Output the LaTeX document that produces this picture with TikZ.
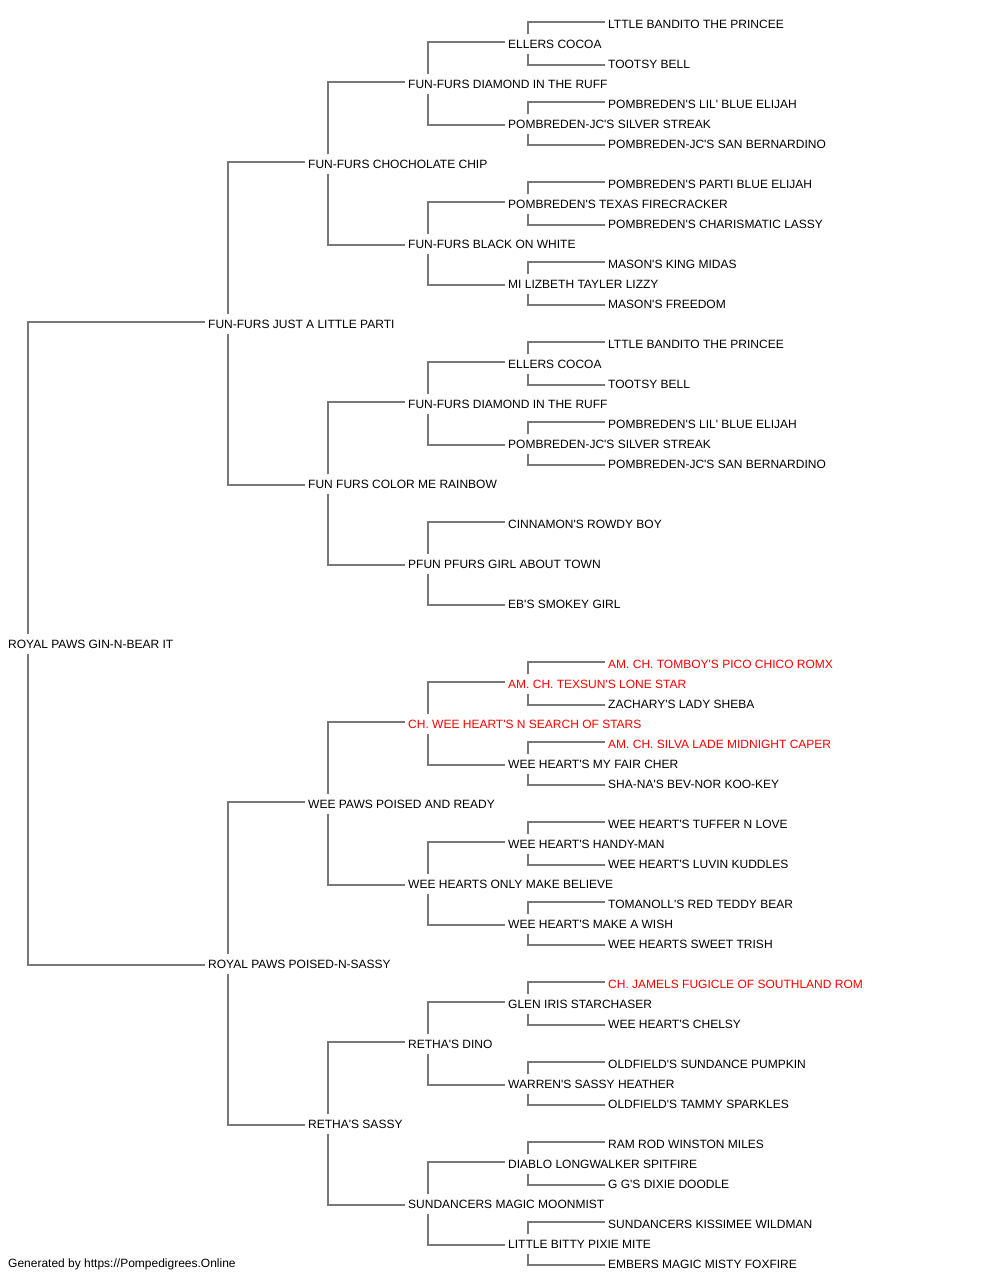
\documentclass[tikz,border=0pt]{standalone}
\usepackage{fontspec}
\setmainfont{Liberation Sans}[Ligatures=TeXOff]
\definecolor{lineg}{HTML}{787878}
\definecolor{champ}{HTML}{FF0000}
\tikzset{
  dog/.style={anchor=west, inner xsep=3pt, inner ysep=5.7pt, text height=8.6pt, text depth=0pt,
    font=\fontsize{12pt}{14pt}\selectfont, text=black},
  champion/.style={dog, text=champ},
  conn/.style={draw=lineg, line width=1.6pt},
  footer/.style={anchor=west, inner sep=0pt, font=\fontsize{12pt}{14pt}\selectfont}
}
\newcommand\pedlink[3]{%
  \draw[conn] ([xshift=23pt]#1.north west) |- ([yshift=2pt]#2.west);
  \draw[conn] ([xshift=23pt]#1.south west) |- ([yshift=-1pt]#3.west);}
\begin{document}
\begin{tikzpicture}[x=1pt,y=-1pt]
\fill[white] (0,0) rectangle (1000,1280);
\useasboundingbox (0,0) rectangle (1000,1280);
% generation 0
\node[dog] (n0-0) at (5,644) {ROYAL PAWS GIN-N-BEAR IT};
% generation 1
\node[dog] (n1-0) at (205,324) {FUN-FURS JUST A LITTLE PARTI};
\node[dog] (n1-1) at (205,964) {ROYAL PAWS POISED-N-SASSY};
% generation 2
\node[dog] (n2-0) at (305,164) {FUN-FURS CHOCHOLATE CHIP};
\node[dog] (n2-1) at (305,484) {FUN FURS COLOR ME RAINBOW};
\node[dog] (n2-2) at (305,804) {WEE PAWS POISED AND READY};
\node[dog] (n2-3) at (305,1124) {RETHA'S SASSY};
% generation 3
\node[dog] (n3-0) at (405,84) {FUN-FURS DIAMOND IN THE RUFF};
\node[dog] (n3-1) at (405,244) {FUN-FURS BLACK ON WHITE};
\node[dog] (n3-2) at (405,404) {FUN-FURS DIAMOND IN THE RUFF};
\node[dog] (n3-3) at (405,564) {PFUN PFURS GIRL ABOUT TOWN};
\node[champion] (n3-4) at (405,724) {CH. WEE HEART'S N SEARCH OF STARS};
\node[dog] (n3-5) at (405,884) {WEE HEARTS ONLY MAKE BELIEVE};
\node[dog] (n3-6) at (405,1044) {RETHA'S DINO};
\node[dog] (n3-7) at (405,1204) {SUNDANCERS MAGIC MOONMIST};
% generation 4
\node[dog] (n4-0) at (505,44) {ELLERS COCOA};
\node[dog] (n4-1) at (505,124) {POMBREDEN-JC'S SILVER STREAK};
\node[dog] (n4-2) at (505,204) {POMBREDEN'S TEXAS FIRECRACKER};
\node[dog] (n4-3) at (505,284) {MI LIZBETH TAYLER LIZZY};
\node[dog] (n4-4) at (505,364) {ELLERS COCOA};
\node[dog] (n4-5) at (505,444) {POMBREDEN-JC'S SILVER STREAK};
\node[dog] (n4-6) at (505,524) {CINNAMON'S ROWDY BOY};
\node[dog] (n4-7) at (505,604) {EB'S SMOKEY GIRL};
\node[champion] (n4-8) at (505,684) {AM. CH. TEXSUN'S LONE STAR};
\node[dog] (n4-9) at (505,764) {WEE HEART'S MY FAIR CHER};
\node[dog] (n4-10) at (505,844) {WEE HEART'S HANDY-MAN};
\node[dog] (n4-11) at (505,924) {WEE HEART'S MAKE A WISH};
\node[dog] (n4-12) at (505,1004) {GLEN IRIS STARCHASER};
\node[dog] (n4-13) at (505,1084) {WARREN'S SASSY HEATHER};
\node[dog] (n4-14) at (505,1164) {DIABLO LONGWALKER SPITFIRE};
\node[dog] (n4-15) at (505,1244) {LITTLE BITTY PIXIE MITE};
% generation 5
\node[dog] (n5-0) at (605,24) {LTTLE BANDITO THE PRINCEE};
\node[dog] (n5-1) at (605,64) {TOOTSY BELL};
\node[dog] (n5-2) at (605,104) {POMBREDEN'S LIL' BLUE ELIJAH};
\node[dog] (n5-3) at (605,144) {POMBREDEN-JC'S SAN BERNARDINO};
\node[dog] (n5-4) at (605,184) {POMBREDEN'S PARTI BLUE ELIJAH};
\node[dog] (n5-5) at (605,224) {POMBREDEN'S CHARISMATIC LASSY};
\node[dog] (n5-6) at (605,264) {MASON'S KING MIDAS};
\node[dog] (n5-7) at (605,304) {MASON'S FREEDOM};
\node[dog] (n5-8) at (605,344) {LTTLE BANDITO THE PRINCEE};
\node[dog] (n5-9) at (605,384) {TOOTSY BELL};
\node[dog] (n5-10) at (605,424) {POMBREDEN'S LIL' BLUE ELIJAH};
\node[dog] (n5-11) at (605,464) {POMBREDEN-JC'S SAN BERNARDINO};
\node[champion] (n5-16) at (605,664) {AM. CH. TOMBOY'S PICO CHICO ROMX};
\node[dog] (n5-17) at (605,704) {ZACHARY'S LADY SHEBA};
\node[champion] (n5-18) at (605,744) {AM. CH. SILVA LADE MIDNIGHT CAPER};
\node[dog] (n5-19) at (605,784) {SHA-NA'S BEV-NOR KOO-KEY};
\node[dog] (n5-20) at (605,824) {WEE HEART'S TUFFER N LOVE};
\node[dog] (n5-21) at (605,864) {WEE HEART'S LUVIN KUDDLES};
\node[dog] (n5-22) at (605,904) {TOMANOLL'S RED TEDDY BEAR};
\node[dog] (n5-23) at (605,944) {WEE HEARTS SWEET TRISH};
\node[champion] (n5-24) at (605,984) {CH. JAMELS FUGICLE OF SOUTHLAND ROM};
\node[dog] (n5-25) at (605,1024) {WEE HEART'S CHELSY};
\node[dog] (n5-26) at (605,1064) {OLDFIELD'S SUNDANCE PUMPKIN};
\node[dog] (n5-27) at (605,1104) {OLDFIELD'S TAMMY SPARKLES};
\node[dog] (n5-28) at (605,1144) {RAM ROD WINSTON MILES};
\node[dog] (n5-29) at (605,1184) {G G'S DIXIE DOODLE};
\node[dog] (n5-30) at (605,1224) {SUNDANCERS KISSIMEE WILDMAN};
\node[dog] (n5-31) at (605,1264) {EMBERS MAGIC MISTY FOXFIRE};
% footer
\node[footer] (foot) at (8,1264) {Generated by https://Pompedigrees.Online};
% connectors
\pedlink{n0-0}{n1-0}{n1-1}
\pedlink{n1-0}{n2-0}{n2-1}
\pedlink{n1-1}{n2-2}{n2-3}
\pedlink{n2-0}{n3-0}{n3-1}
\pedlink{n2-1}{n3-2}{n3-3}
\pedlink{n2-2}{n3-4}{n3-5}
\pedlink{n2-3}{n3-6}{n3-7}
\pedlink{n3-0}{n4-0}{n4-1}
\pedlink{n3-1}{n4-2}{n4-3}
\pedlink{n3-2}{n4-4}{n4-5}
\pedlink{n3-3}{n4-6}{n4-7}
\pedlink{n3-4}{n4-8}{n4-9}
\pedlink{n3-5}{n4-10}{n4-11}
\pedlink{n3-6}{n4-12}{n4-13}
\pedlink{n3-7}{n4-14}{n4-15}
\pedlink{n4-0}{n5-0}{n5-1}
\pedlink{n4-1}{n5-2}{n5-3}
\pedlink{n4-2}{n5-4}{n5-5}
\pedlink{n4-3}{n5-6}{n5-7}
\pedlink{n4-4}{n5-8}{n5-9}
\pedlink{n4-5}{n5-10}{n5-11}
\pedlink{n4-8}{n5-16}{n5-17}
\pedlink{n4-9}{n5-18}{n5-19}
\pedlink{n4-10}{n5-20}{n5-21}
\pedlink{n4-11}{n5-22}{n5-23}
\pedlink{n4-12}{n5-24}{n5-25}
\pedlink{n4-13}{n5-26}{n5-27}
\pedlink{n4-14}{n5-28}{n5-29}
\pedlink{n4-15}{n5-30}{n5-31}
\end{tikzpicture}
\end{document}
